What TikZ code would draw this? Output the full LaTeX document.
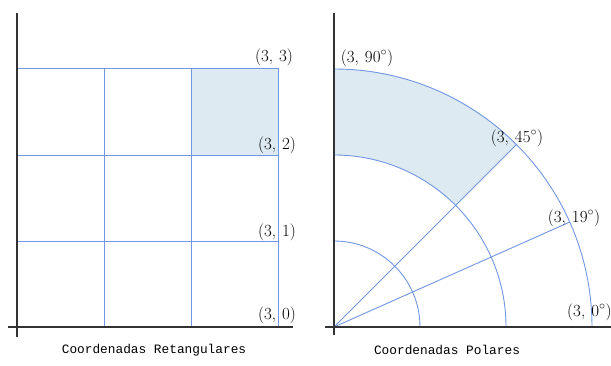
\documentclass[tikz,border=0pt]{standalone}
\usepackage{fontspec}
\newfontfamily\capfont{Liberation Mono}
\usetikzlibrary{calc}
\definecolor{gridblue}{RGB}{112,150,228}
\definecolor{shadeblue}{RGB}{221,234,242}
\definecolor{axisgray}{RGB}{50,50,50}
\tikzset{
  gridline/.style={draw=gridblue, line width=0.9pt},
  axisline/.style={draw=axisgray, line width=1.1pt},
  shaded/.style={fill=shadeblue},
  lbl/.style={font=\fontsize{17}{19}\selectfont, inner sep=0pt},
  caption/.style={font=\capfont\fontsize{12.8}{14}\selectfont, inner sep=0pt},
}
\begin{document}
\begin{tikzpicture}[x=1pt,y=1pt]
\useasboundingbox (0,0) rectangle (611,365);
\clip (0,0) rectangle (611,365);
% ---------- left: rectangular ----------
\coordinate (O) at (17,38);
\fill[shaded] (191,210) rectangle (278,297);
\foreach \x in {104,191,278} \draw[gridline] (\x,38) -- (\x,297);
\foreach \y in {124,210,297} \draw[gridline] (17,\y) -- (278,\y);
\coordinate (ya) at (17,28); \coordinate (yb) at (17,352);
\coordinate (xa) at (8,38); \coordinate (xb) at (293,38);
\draw[axisline] (ya) -- (yb);
\draw[axisline] (xa) -- (xb);
\node[lbl] (l33) at (274,308) {(3,\hspace{6pt}3)};
\node[lbl] (l32) at (277,220) {(3,\hspace{6pt}2)};
\node[lbl] (l31) at (277,133) {(3,\hspace{6pt}1)};
\node[lbl] (l30) at (277,50) {(3,\hspace{6pt}0)};
\node[caption] (cap1) at (154,15) {Coordenadas Retangulares};
% ---------- right: polar ----------
\coordinate (P) at (334,38);
\fill[shaded] ($(P)+(45:172)$) -- ($(P)+(45:258)$) arc[start angle=45,end angle=90,radius=258]
   -- ($(P)+(0,172)$) arc[start angle=90,end angle=45,radius=172] -- cycle;
\foreach \r in {86,172,258}
  \draw[gridline] ($(P)+(\r,0)$) arc[start angle=0,end angle=90,radius=\r];
\coordinate (R45) at ($(P)+(45:258)$);
\coordinate (R24) at ($(P)+(24:258)$);
\draw[gridline] (P) -- (R45);
\draw[gridline] (P) -- (R24);
\coordinate (pya) at (334,30); \coordinate (pyb) at (334,352);
\coordinate (pxa) at (325,38); \coordinate (pxb) at (611,38);
\draw[axisline] (pya) -- (pyb);
\draw[axisline] (pxa) -- (pxb);
\node[lbl] (p90) at (367,307) {(3,\hspace{6pt}90$^{\circ}$)};
\node[lbl] (p45) at (517,227) {(3,\hspace{6pt}45$^{\circ}$)};
\node[lbl] (p19) at (574,147) {(3,\hspace{6pt}19$^{\circ}$)};
\node[lbl,anchor=west] (p0) at (567,53) {(3,\hspace{6pt}0$^{\circ}$)};
\node[caption] (cap2) at (447,15) {Coordenadas Polares};
\end{tikzpicture}
\end{document}
